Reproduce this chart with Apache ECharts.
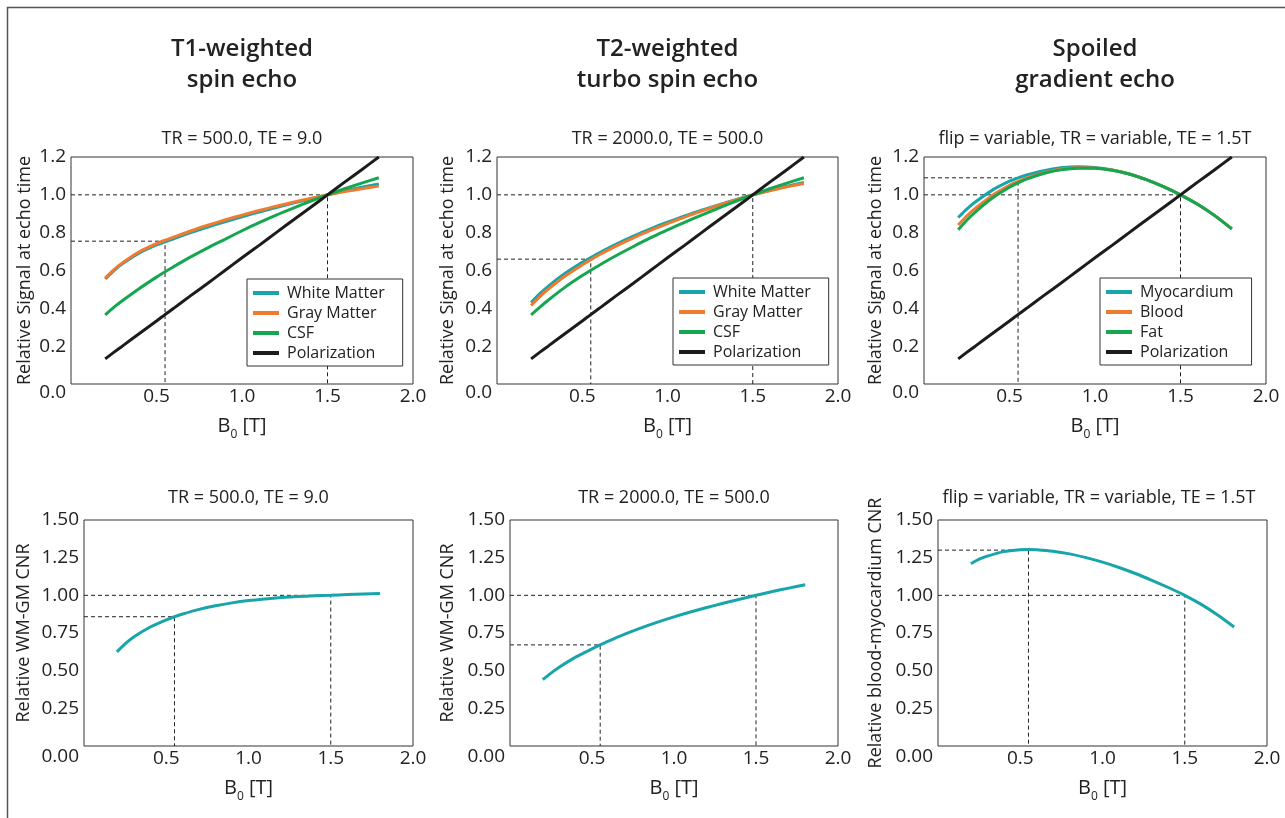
<!DOCTYPE html>
<html lang="en">
<head>
<meta charset="UTF-8" />
<title>Signal and CNR versus field strength</title>
<script src="https://cdn.jsdelivr.net/npm/echarts@6/dist/echarts.min.js"></script>
<style>html, body { margin: 0; padding: 0; background: #fff; }</style>
</head>
<body>
<div id="main" style="width: 1285px; height: 818px"></div>
<script type="text/javascript">
// field strengths (T) shared by every curve
const fieldT = [0.2, 0.25, 0.3, 0.4, 0.5, 0.55, 0.6, 0.7, 0.8, 0.9, 1.0, 1.1, 1.2, 1.3, 1.4, 1.5, 1.6, 1.7, 1.8];

// polarization, relative to 1.5T
const polarization = [0.133, 0.167, 0.2, 0.267, 0.333, 0.367, 0.4, 0.467, 0.533, 0.6, 0.667, 0.733, 0.8, 0.867, 0.933, 1.0, 1.067, 1.133, 1.2];

// T1-weighted spin echo
const t1White = [0.555, 0.598, 0.635, 0.693, 0.735, 0.752, 0.768, 0.8, 0.83, 0.858, 0.884, 0.909, 0.933, 0.956, 0.978, 1.0, 1.021, 1.04, 1.058];
const t1Gray = [0.56, 0.603, 0.64, 0.699, 0.742, 0.76, 0.776, 0.809, 0.839, 0.867, 0.893, 0.917, 0.94, 0.961, 0.981, 1.0, 1.017, 1.032, 1.046];
const t1Csf = [0.365, 0.405, 0.44, 0.505, 0.565, 0.593, 0.62, 0.672, 0.72, 0.765, 0.81, 0.853, 0.893, 0.93, 0.966, 1.0, 1.032, 1.062, 1.09];

// T2-weighted turbo spin echo
const t2White = [0.43, 0.476, 0.516, 0.585, 0.643, 0.669, 0.694, 0.74, 0.782, 0.82, 0.855, 0.888, 0.919, 0.947, 0.974, 1.0, 1.024, 1.045, 1.065];
const t2Gray = [0.415, 0.461, 0.501, 0.571, 0.63, 0.657, 0.683, 0.73, 0.773, 0.812, 0.848, 0.882, 0.914, 0.944, 0.973, 1.0, 1.022, 1.042, 1.06];
const t2Csf = [0.365, 0.405, 0.443, 0.512, 0.573, 0.601, 0.628, 0.679, 0.727, 0.772, 0.815, 0.855, 0.893, 0.93, 0.966, 1.0, 1.032, 1.062, 1.09];

// spoiled gradient echo
const greMyo = [0.88, 0.925, 0.962, 1.025, 1.072, 1.09, 1.105, 1.128, 1.143, 1.149, 1.145, 1.132, 1.11, 1.08, 1.043, 1.0, 0.95, 0.89, 0.82];
const greBlood = [0.84, 0.888, 0.928, 0.997, 1.05, 1.071, 1.089, 1.117, 1.135, 1.143, 1.142, 1.131, 1.11, 1.08, 1.043, 1.0, 0.95, 0.89, 0.82];
const greFat = [0.815, 0.866, 0.909, 0.983, 1.04, 1.063, 1.083, 1.113, 1.132, 1.141, 1.141, 1.13, 1.11, 1.08, 1.043, 1.0, 0.95, 0.89, 0.82];

// relative contrast-to-noise ratios
const cnrT1 = [0.625, 0.678, 0.722, 0.788, 0.837, 0.858, 0.876, 0.907, 0.931, 0.95, 0.965, 0.976, 0.985, 0.992, 0.997, 1.0, 1.005, 1.009, 1.012];
const cnrT2 = [0.44, 0.484, 0.523, 0.59, 0.645, 0.671, 0.696, 0.742, 0.784, 0.822, 0.857, 0.889, 0.919, 0.947, 0.974, 1.0, 1.025, 1.048, 1.07];
const cnrGre = [1.21, 1.24, 1.26, 1.29, 1.303, 1.305, 1.303, 1.293, 1.275, 1.25, 1.22, 1.185, 1.145, 1.1, 1.052, 1.0, 0.94, 0.87, 0.79];

// dashed reference lines: [field, value] corners
const guideAt15 = [[0, 1.0], [1.5, 1.0], [1.5, 0]];
const guideT1 = [[0, 0.755], [0.55, 0.755], [0.55, 0]];
const guideT2 = [[0, 0.66], [0.55, 0.66], [0.55, 0]];
const guideGre = [[0, 1.09], [0.55, 1.09], [0.55, 0]];
const guideCnrT1 = [[0, 0.858], [0.55, 0.858], [0.55, 0]];
const guideCnrT2 = [[0, 0.671], [0.55, 0.671], [0.55, 0]];
const guideCnrGre = [[0, 1.3], [0.55, 1.3], [0.55, 0]];

const brainNames = ['White Matter', 'Gray Matter', 'CSF', 'Polarization'];
const cardiacNames = ['Myocardium', 'Blood', 'Fat', 'Polarization'];
const headings = [['T1-weighted', 'spin echo'], ['T2-weighted', 'turbo spin echo'], ['Spoiled', 'gradient echo']];
const subtitles = ['TR = 500.0, TE = 9.0', 'TR = 2000.0, TE = 500.0', 'flip = variable, TR = variable, TE = 1.5T'];

const FONT = "'Open Sans', sans-serif";
const INK = '#222';
const TEAL = '#17a5ab', ORANGE = '#f07a2d', GREEN = '#15a650', BLACK = '#1c1c1c';

let myChart = echarts.init(document.getElementById('main'));

const grids = [
  { left: 71, top: 157, width: 342, height: 227 },
  { left: 497, top: 157, width: 341, height: 227 },
  { left: 924, top: 157, width: 342, height: 227 },
  { left: 84, top: 520, width: 329, height: 226 },
  { left: 510, top: 520, width: 328, height: 226 },
  { left: 938, top: 520, width: 329, height: 226 }
].map((g) => Object.assign({ show: true, borderColor: '#333', borderWidth: 1, backgroundColor: 'transparent' }, g));

function xAxisFor(i) {
  return {
    type: 'value', gridIndex: i, min: 0, max: 2, interval: 0.5,
    axisLine: { show: false }, axisTick: { show: false }, splitLine: { show: false },
    axisLabel: {
      margin: 3, fontSize: 19, fontFamily: FONT, color: INK,
      formatter: (v) => (v === 0 ? '' : v.toFixed(1))
    },
    name: '{b|B}{s|0}{b| [T]}', nameLocation: 'middle', nameGap: 27,
    nameTextStyle: {
      rich: {
        b: { fontSize: 20, fontFamily: FONT, color: INK, lineHeight: 30 },
        s: { fontSize: 12, fontFamily: FONT, color: INK, verticalAlign: 'bottom' }
      }
    }
  };
}

function yAxisFor(i, max, step, decimals, name, gap, shift) {
  return {
    type: 'value', gridIndex: i, min: 0, max: max, interval: step,
    axisLine: { show: false }, axisTick: { show: false }, splitLine: { show: false },
    axisLabel: {
      margin: 5, fontSize: 19, fontFamily: FONT, color: INK,
      formatter: (v) => (v === 0 ? '{z|' + v.toFixed(decimals) + '}' : v.toFixed(decimals)),
      rich: { z: { fontSize: 19, fontFamily: FONT, color: INK, padding: [shift, 0, 0, 0] } }
    },
    name: name, nameLocation: 'middle', nameGap: gap,
    nameTextStyle: { fontSize: 18, fontFamily: FONT, color: INK }
  };
}

function curve(name, i, values, color) {
  return {
    name: name, type: 'line', xAxisIndex: i, yAxisIndex: i,
    data: fieldT.map((b, k) => [b, values[k]]),
    smooth: 0.25, symbol: 'none', color: color,
    lineStyle: { width: 3, color: color }, z: 3
  };
}

function guide(i, pts) {
  return {
    type: 'line', xAxisIndex: i, yAxisIndex: i, data: pts, symbol: 'none', silent: true,
    lineStyle: { width: 1, type: [4, 3], color: '#222' }, z: 2
  };
}

function legendAt(names, left, top) {
  return {
    data: names, left: left, top: top, orient: 'vertical', icon: 'rect',
    itemWidth: 26, itemHeight: 4, itemGap: 0, padding: [4, 18, 3, 6],
    borderColor: '#333', borderWidth: 1, backgroundColor: '#fff', selectedMode: false,
    textStyle: { fontSize: 16, fontFamily: FONT, color: INK, lineHeight: 20, padding: [0, 0, 0, 3] }
  };
}

const centers = [242, 667.5, 1095];
const graphics = [
  { type: 'rect', shape: { x: 7.5, y: 7.5, width: 1400, height: 1000 }, style: { fill: 'none', stroke: '#555', lineWidth: 1.5 } }
];
headings.forEach((h, k) => {
  h.forEach((line, j) => {
    graphics.push({ type: 'text', x: centers[k], y: 49 + j * 31,
      style: { text: line, fontSize: 24, fontWeight: 600, fontFamily: FONT, fill: INK, align: 'center', verticalAlign: 'middle' } });
  });
});
[0, 1].forEach((row) => {
  subtitles.forEach((s, k) => {
    const cx = row === 0 ? centers[k] : [248.5, 674, 1099][k];
    graphics.push({ type: 'text', x: cx, y: row === 0 ? 139 : 498,
      style: { text: s, fontSize: 18, fontFamily: FONT, fill: INK, align: 'center', verticalAlign: 'middle' } });
  });
});

let options = {
  animation: false,
  grid: grids,
  xAxis: [0, 1, 2, 3, 4, 5].map(xAxisFor),
  yAxis: [
    yAxisFor(0, 1.2, 0.2, 1, 'Relative Signal at echo time', 37, 18),
    yAxisFor(1, 1.2, 0.2, 1, 'Relative Signal at echo time', 40, 18),
    yAxisFor(2, 1.2, 0.2, 1, 'Relative Signal at echo time', 39, 18),
    yAxisFor(3, 1.5, 0.25, 2, 'Relative WM-GM CNR', 51, 21),
    yAxisFor(4, 1.5, 0.25, 2, 'Relative WM-GM CNR', 53, 21),
    yAxisFor(5, 1.5, 0.25, 2, 'Relative blood-myocardium CNR', 53, 21)
  ],
  legend: [legendAt(brainNames, 247, 279), legendAt(brainNames, 673, 278), legendAt(cardiacNames, 1100, 278)],
  graphic: graphics,
  series: [
    guide(0, guideAt15), guide(0, guideT1),
    curve('White Matter', 0, t1White, TEAL), curve('Gray Matter', 0, t1Gray, ORANGE),
    curve('CSF', 0, t1Csf, GREEN), curve('Polarization', 0, polarization, BLACK),

    guide(1, guideAt15), guide(1, guideT2),
    curve('White Matter', 1, t2White, TEAL), curve('Gray Matter', 1, t2Gray, ORANGE),
    curve('CSF', 1, t2Csf, GREEN), curve('Polarization', 1, polarization, BLACK),

    guide(2, guideAt15), guide(2, guideGre),
    curve('Myocardium', 2, greMyo, TEAL), curve('Blood', 2, greBlood, ORANGE),
    curve('Fat', 2, greFat, GREEN), curve('Polarization', 2, polarization, BLACK),

    guide(3, guideAt15), guide(3, guideCnrT1), curve('WM-GM CNR T1', 3, cnrT1, TEAL),
    guide(4, guideAt15), guide(4, guideCnrT2), curve('WM-GM CNR T2', 4, cnrT2, TEAL),
    guide(5, guideAt15), guide(5, guideCnrGre), curve('Blood-myocardium CNR', 5, cnrGre, TEAL)
  ]
};

myChart.setOption(options);
</script>
</body>
</html>
